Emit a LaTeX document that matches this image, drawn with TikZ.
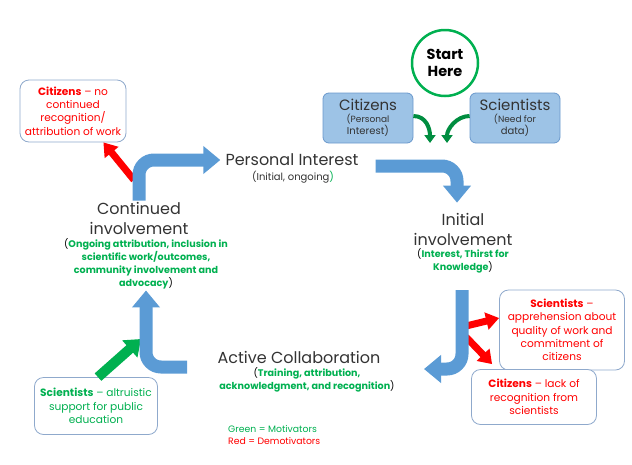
\documentclass[tikz,border=0pt]{standalone}
\usepackage{fontspec}
\setmainfont{Poppins}
\usetikzlibrary{arrows.meta, positioning}
\definecolor{flow blue}{HTML}{5B9BD5}
\definecolor{source fill}{HTML}{9DC3E6}
\definecolor{source edge}{HTML}{6A98CC}
\definecolor{box edge}{HTML}{8FA9CC}
\definecolor{motiv}{HTML}{00B050}
\definecolor{demotiv}{HTML}{FF0000}
\colorlet{stage text}{black!80}
\newcommand\stagesize{\fontsize{16}{20}\selectfont}
\newcommand\notesize{\fontsize{9.6}{13}\selectfont}
\newcommand\boxsize{\fontsize{10.6}{13.3}\selectfont}
\newcommand\blackparen[1]{\textcolor{black}{\mdseries #1}}
\tikzset{
  stage/.style={font=\stagesize, text=stage text, align=center, inner sep=1pt},
  note/.style={font=\notesize\bfseries, text=motiv, align=center, inner sep=1pt},
  source/.style={draw=source edge, fill=source fill, rounded corners=6pt, thick,
    minimum width=90pt, minimum height=50pt, align=center, inner sep=1pt, text=stage text},
  remark/.style={draw=box edge, fill=white, rounded corners=9pt, thick,
    align=center, inner sep=2pt, font=\boxsize},
  startring/.style={circle, draw=motiv, line width=2.5pt, minimum size=66pt,
    align=center, inner sep=0pt, font=\fontsize{14.5}{17.5}\selectfont\bfseries},
  legend/.style={anchor=west, inner sep=0pt, font=\fontsize{9.3}{10}\selectfont},
  flow/.style={draw=flow blue, line width=13pt, rounded corners=15pt,
    -{Triangle[width=27pt,length=17pt]}},
  demo arrow/.style={draw=demotiv, line width=7pt, -{Triangle[width=17pt,length=13pt]}},
  motiv arrow/.style={draw=motiv, line width=10pt, -{Triangle[width=22pt,length=15pt]}},
  feed/.style={draw=motiv!80!black, line width=4pt, -{Triangle[width=11pt,length=8pt]}}
}
\begin{document}
\begin{tikzpicture}[x=1pt, y=-1pt]
  \useasboundingbox (0,0) rectangle (632,464);
  \node[startring] (start) at (445,63) {Start\\Here};
  \node[source] (topcit) at (368,118) {\fontsize{15}{17}\selectfont Citizens\\\fontsize{9}{10.5}\selectfont (Personal\\Interest)};
  \node[source] (topsci) at (515,118) {\fontsize{15}{17}\selectfont Scientists\\\fontsize{9}{10.5}\selectfont (Need for\\data)};
  \coordinate (citdrop) at (430,143);
  \coordinate (scidrop) at (447,143);
  \draw[feed] ([yshift=2pt]topcit.east) .. controls +(13,0) and +(0,-14) .. (citdrop);
  \draw[feed] ([yshift=2pt]topsci.west) .. controls +(-13,0) and +(0,-14) .. (scidrop);

  \node[stage] (pi) at (292,160) {Personal Interest};
  \node[inner sep=1pt, font=\fontsize{10}{12}\selectfont, text=stage text] (pinote) at (293,177) {(Initial, ongoing\textcolor{motiv}{)}};
  \node[stage] (ci) at (139,218) {Continued\\involvement};
  \node[note] (cinote) at (146,264) {\blackparen{(}Ongoing attribution, inclusion in\\scientific work/outcomes,\\community involvement and\\advocacy\blackparen{)}};
  \node[stage] (ii) at (463,229) {Initial\\involvement};
  \node[note] (iinote) at (463,261) {\blackparen{(}Interest, Thirst for\\Knowledge\blackparen{)}};
  \node[stage] (ac) at (299,357) {Active Collaboration};
  \node[note] (acnote) at (307,380) {\blackparen{(}Training, attribution,\\acknowledgment, and recognition\blackparen{)}};

  \node[remark, text=demotiv, minimum width=106pt, minimum height=62pt] (lostbox) at (73,111) {\textbf{Citizens} -- no\\continued\\recognition/\\attribution of work};
  \node[remark, text=demotiv, minimum width=125pt, minimum height=80pt] (worrybox) at (562,330) {\textbf{Scientists} --\\apprehension about\\quality of work and\\commitment of\\citizens};
  \node[remark, text=demotiv, minimum width=125pt, minimum height=55pt] (lackbox) at (534,397) {\textbf{Citizens} -- lack of\\recognition from\\scientists};
  \node[remark, text=motiv, minimum width=123pt, minimum height=57pt] (helpbox) at (96,406) {\textbf{Scientists} -- altruistic\\support for public\\education};

  \coordinate (ciout) at (134,180);
  \coordinate (jmida) at (466,326);
  \coordinate (jmidb) at (466,337);
  \coordinate (uin) at (141,339);
  \draw[demo arrow] (ciout) -- ([xshift=-23pt]lostbox.south east);
  \draw[demo arrow] (jmida) -- ([yshift=12pt]worrybox.west);
  \draw[demo arrow] (jmidb) -- ([xshift=21pt,yshift=5pt]lackbox.north west);
  \draw[motiv arrow] ([xshift=2pt]helpbox.north) -- (uin);

  \coordinate (jtop) at (462,290);
  \coordinate (jtip) at (424,369);
  \coordinate (utail) at (187,367);
  \draw[flow, shorten >=4pt] (ci.north) |- (pi.west);
  \draw[flow] ([xshift=16pt,yshift=-6pt]pi.east) -| ([xshift=-6pt,yshift=9pt]ii.north);
  \draw[flow] (jtop) |- (jtip);
  \draw[flow] (utail) -| (cinote.south);

  \node[legend, text=motiv] (lgreen) at (228,429) {Green = Motivators};
  \node[legend, text=demotiv] (lred) at (228,441) {Red = Demotivators};
\end{tikzpicture}
\end{document}
